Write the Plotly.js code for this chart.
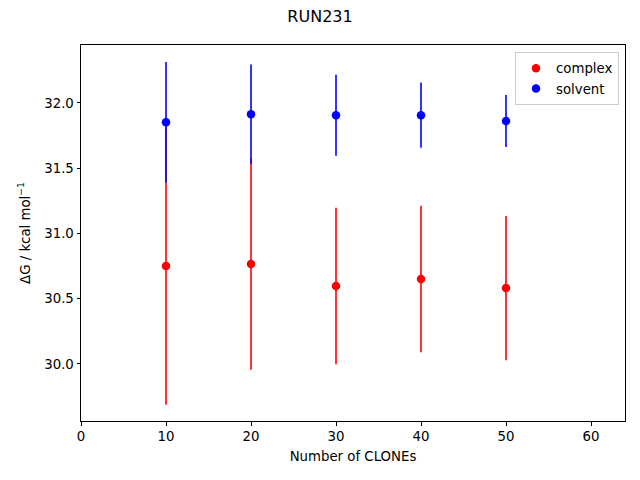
<!DOCTYPE html>
<html>
<head>
<meta charset="utf-8">
<script src="https://cdn.plot.ly/plotly-3.0.1.min.js"></script>
<style>html,body{margin:0;padding:0;background:#fff}#chart{width:640px;height:480px}</style>
</head>
<body>
<div id="chart"></div>
<script>
const clones = [10, 20, 30, 40, 50];
const complexDG = [30.75, 30.765, 30.597, 30.651, 30.581];
const complexErr = [1.062, 0.81, 0.60, 0.562, 0.553];
const solventDG = [31.852, 31.914, 31.906, 31.906, 31.862];
const solventErr = [0.462, 0.38, 0.31, 0.25, 0.199];

const font = {family: 'DejaVu Sans, sans-serif', size: 13.3, color: '#000'};

const traces = [
  {x: clones, y: complexDG, name: 'complex', type: 'scatter', mode: 'markers',
   marker: {color: '#ff0000', size: 8.5},
   error_y: {type: 'data', array: complexErr, visible: true, color: '#ff0000', thickness: 1.6, width: 0}},
  {x: clones, y: solventDG, name: 'solvent', type: 'scatter', mode: 'markers',
   marker: {color: '#0000ff', size: 8.5},
   error_y: {type: 'data', array: solventErr, visible: true, color: '#0000ff', thickness: 1.6, width: 0}}
];

const axisCommon = {showgrid: false, zeroline: false, showline: true, mirror: true,
  linecolor: '#000', linewidth: 1, ticks: 'outside', ticklen: 3.5, tickwidth: 1,
  tickcolor: '#000', tickfont: font};

const layout = {
  width: 640, height: 480,
  margin: {l: 81, r: 15, t: 45, b: 59, pad: 0},
  paper_bgcolor: '#fff', plot_bgcolor: '#fff',
  font: font,
  title: {text: 'RUN231', x: 0.5, xanchor: 'center', y: 0.965, yanchor: 'middle', font: {family: font.family, size: 16, color: '#000'}},
  xaxis: Object.assign({}, axisCommon, {range: [0, 64], tickvals: [0,10,20,30,40,50,60],
    title: {text: 'Number of CLONEs', font: font, standoff: 8}}),
  yaxis: Object.assign({}, axisCommon, {range: [29.5626, 32.444], tickvals: [30,30.5,31,31.5,32], tickformat: '.1f',
    title: {text: 'ΔG / kcal mol<sup>−1</sup>', font: font, standoff: 10}}),
  showlegend: true,
  legend: {x: 0.989, xanchor: 'right', y: 0.981, yanchor: 'top', bgcolor: 'rgba(255,255,255,0.8)',
    bordercolor: '#cccccc', borderwidth: 1, font: font, tracegroupgap: 0}
};

Plotly.newPlot('chart', traces, layout, {displayModeBar: false, staticPlot: true});
</script>
</body>
</html>
